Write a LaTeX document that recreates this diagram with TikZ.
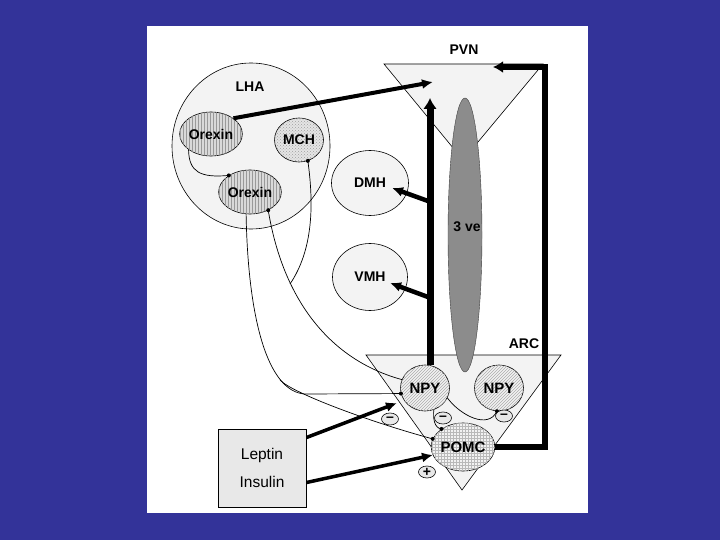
\documentclass[tikz,border=0pt]{standalone}
\usepackage{fontspec}
\newfontfamily\lbl{Liberation Sans}
\usepackage{tikz}
\usetikzlibrary{shapes.geometric,arrows.meta,patterns,calc}
\definecolor{slideblue}{RGB}{51,51,153}
\definecolor{tissue}{RGB}{243,243,243}
\definecolor{boxgray}{RGB}{232,232,232}
\definecolor{ventgray}{RGB}{140,140,140}

\begin{document}
\begin{tikzpicture}[
    x=1pt, y=-1pt,
    every node/.style={font=\lbl\bfseries\fontsize{14}{16}\selectfont},
    nuc/.style={ellipse, draw, line width=0.6pt, fill=tissue, inner sep=0pt},
    cell/.style={ellipse, draw, line width=0.6pt, inner sep=0pt, minimum width=49pt, minimum height=44pt},
    orexcell/.style={cell, fill=gray!30, postaction={pattern=vertical lines, pattern color=gray!80}},
    mchcell/.style={cell, fill=gray!20, postaction={pattern=crosshatch dots, pattern color=gray!75}},
    npycell/.style={cell, minimum height=46pt, fill=gray!10, postaction={pattern=north east lines, pattern color=gray!65}, font=\lbl\bfseries\fontsize{15}{17}\selectfont},
    pomccell/.style={cell, minimum height=48pt, fill=gray!10, postaction={pattern=grid, pattern color=gray!55}, font=\lbl\bfseries\fontsize{15}{17}\selectfont},
    sgn/.style={ellipse, draw, line width=0.6pt, fill=boxgray, minimum width=17pt, minimum height=12pt, inner sep=0pt},
    reg/.style={draw, line width=0.6pt, fill=tissue},
    fib/.style={line width=0.7pt},
    syn/.style={circle, fill=black, inner sep=0pt, minimum size=4pt},
    fat/.style={line width=#1, -{Latex[length=11pt, width=10pt]}},
  ]
  \useasboundingbox (0,0) rectangle (720,540);
  \fill[slideblue] (0,0) rectangle (720,540);
  \fill[white] (147,26) rectangle (588,513);

  \node[nuc, minimum width=158pt, minimum height=166pt] (lha) at (251,146) {};
  \node (lhaText) at (250,87) {LHA};

  \draw[reg] (384,64) -- (543,64) -- (463,160) -- cycle;
  \node (pvnText) at (464,50) {PVN};
  \draw[reg] (366,355) -- (561,355) -- (462,490) -- cycle;
  \node (arcText) at (524,344) {ARC};
  \node[ellipse, fill=ventgray, draw=gray!50!black, line width=0.4pt, minimum width=34pt, minimum height=274pt, inner sep=0pt] (ve) at (465,235) {};
  \node (veText) at (467,227) {3 ve};

  \node[orexcell] (orexA) at (211,134) {Orexin};
  \node[mchcell] (mch) at (299,140) {MCH};
  \node[orexcell, minimum width=47pt] (orexB) at (250,192) {Orexin};
  \node[nuc, minimum width=77pt, minimum height=65pt] (dmh) at (370,183) {DMH};
  \node[nuc, minimum width=75pt, minimum height=67pt] (vmh) at (370,277) {VMH};
  \node[npycell] (npyL) at (425,388) {NPY};
  \node[npycell] (npyR) at (499,388) {NPY};
  \node[pomccell] (pomc) at (463,447) {POMC};

  \coordinate (joinM) at (290,284);
  \coordinate (split) at (280,380);
  \draw[fib] (orexA.215) .. controls (189,172) and (200,178) .. (orexB.142) node[syn] (d1) {};
  \draw[fib] (mch.-67) node[syn] (d2) {} .. controls (314,205) and (313,250) .. (joinM);
  \draw[fib] (orexB.-45) node[syn] (d3) {} .. controls (283,300) and (330,360) .. (npyL.160);
  \draw[fib] (orexB.-100) .. controls (248,320) and (268,392) .. (305,394) -- (npyL.193) node[syn] (d4) {};
  \draw[fib] (split) .. controls (292,393) and (370,422) .. (pomc.165) node[syn] (d5) {};
  \draw[fib] (npyL.-68) .. controls (433,418) and (434,428) .. (pomc.140) node[syn] (d6) {};
  \draw[fib] (npyL.-24) .. controls (460,415) and (488,430) .. (npyR.-95) node[syn] (d7) {};

  \coordinate (pvnIn) at (433,82);
  \coordinate (vTop) at (430,98);
  \coordinate (dmhFrom) at (428,201);
  \coordinate (dmhTip) at (392,188);
  \coordinate (vmhFrom) at (428,297);
  \coordinate (vmhTip) at (390,283);
  \coordinate (pvnCorner) at (545,67);
  \coordinate (pvnTip) at (493,67);
  \coordinate (lepTip) at (397,403);
  \coordinate (insTip) at (433,455);
  \draw[fat=4pt] (orexA.35) -- (pvnIn);
  \draw[fat=7pt, -{Latex[length=11pt, width=14pt]}] (vTop |- npyL.north) -- (vTop);
  \draw[fat=4.5pt] (dmhFrom) -- (dmhTip);
  \draw[fat=4.5pt] (vmhFrom) -- (vmhTip);
  \draw[fat=5.5pt, -{Latex[length=10pt, width=12pt]}, line join=miter] (pomc.east) -| (pvnCorner) -- (pvnTip);

  \node[draw, fill=boxgray, line width=1pt, minimum width=88pt, minimum height=78pt, align=center, font=\lbl\fontsize{15.5}{28}\selectfont] (box) at (262,468) {Leptin\\Insulin};
  \draw[fat=3.5pt] ($(box.north east)+(0,9)$) -- (lepTip);
  \draw[fat=3.5pt] ($(box.south east)+(0,-25)$) -- (insTip);

  \node[sgn] (m1) at (390,419) {\textendash};
  \node[sgn] (m2) at (443,418) {\textendash};
  \node[sgn] (m3) at (504,416) {\textendash};
  \node[sgn] (p1) at (427,472) {+};
\end{tikzpicture}
\end{document}
